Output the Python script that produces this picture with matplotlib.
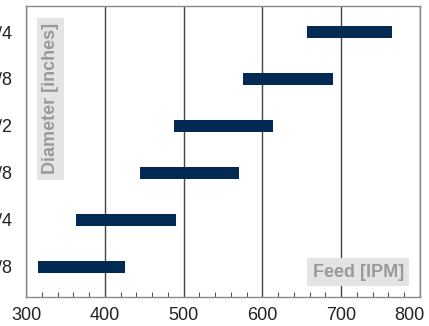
import matplotlib
matplotlib.use("Agg")
import matplotlib.pyplot as plt
from matplotlib.ticker import MultipleLocator
from matplotlib.transforms import ScaledTranslation

diameters = ["1/8", "1/4", "3/8", "1/2", "5/8", "3/4"]
feed_min = [315, 363, 445, 488, 575, 657]
feed_max = [425, 490, 570, 613, 690, 765]
x_ticks = [300, 400, 500, 600, 700, 800]

plt.rcParams['font.family'] = ['Liberation Sans', 'DejaVu Sans']

fig = plt.figure(figsize=(4.29, 3.26), dpi=100)
ax = fig.add_axes([26 / 429, 29 / 326, (420 - 26) / 429, (297 - 5.7) / 326])

ypos = list(range(len(diameters)))
widths = [b - a for a, b in zip(feed_min, feed_max)]
ax.barh(ypos, widths, left=feed_min, height=0.25, color='#022a52', zorder=3)

ax.set_xlim(300, 800)
ax.set_ylim(-0.64, 5.56)
ax.set_xticks(x_ticks, [str(t) for t in x_ticks])
ax.xaxis.set_minor_locator(MultipleLocator(20))
ax.set_yticks(ypos, diameters)

ax.grid(axis='x', which='major', color='#444444', linewidth=1.0, zorder=1)
ax.tick_params(axis='x', which='major', direction='in', length=0, pad=7,
               labelsize=13, labelcolor='#222222')
ax.tick_params(axis='x', which='minor', direction='in', length=3.5,
               width=0.8, color='#555555')
ax.tick_params(axis='y', length=0, pad=9.5, labelsize=13, labelcolor='#222222')

for s in ax.spines.values():
    s.set_color('#888888')
    s.set_linewidth(1.0)

labels = ax.get_xticklabels()
labels[-1].set_transform(labels[-1].get_transform() +
                         ScaledTranslation(-11 / 100, 0, fig.dpi_scale_trans))

ax.text(0.843, 0.085, "Feed [IPM]", transform=ax.transAxes, ha='center', va='center',
        fontsize=13, fontweight='bold', color='#9a9a9a', zorder=4,
        bbox=dict(boxstyle='square,pad=0.3', facecolor='#e4e4e4', edgecolor='none'))
ax.text(0.062, 0.68, "Diameter [inches]", transform=ax.transAxes, ha='center', va='center',
        rotation=90, fontsize=13, fontweight='bold', color='#9a9a9a', zorder=4,
        bbox=dict(boxstyle='square,pad=0.3', facecolor='#e4e4e4', edgecolor='none'))

fig.savefig("out.png", dpi=100)
